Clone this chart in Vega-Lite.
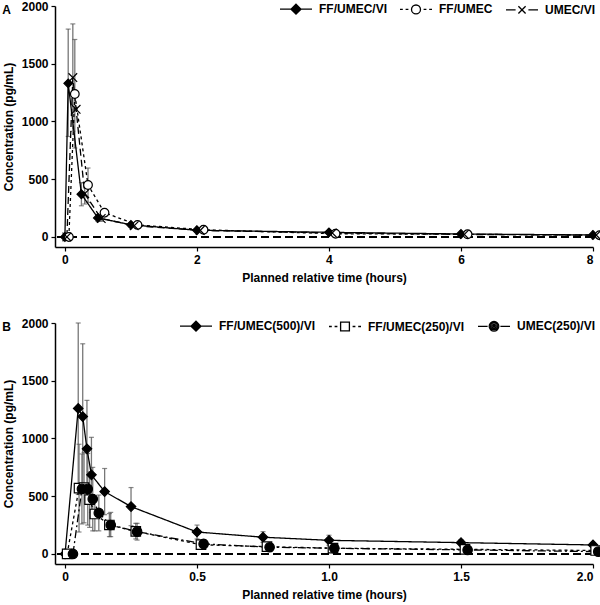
{
  "$schema": "https://vega.github.io/schema/vega-lite/v6.json",
  "padding": {"left": 2, "top": 0, "right": 5, "bottom": 3},
  "spacing": 34,
  "datasets": {
    "a": [
      {"series": "FF/UMEC/VI", "t": 0, "v": 0},
      {"series": "FF/UMEC/VI", "t": 0.05, "v": 1330, "lo": 870, "hi": 1800},
      {"series": "FF/UMEC/VI", "t": 0.25, "v": 370, "lo": 270, "hi": 470},
      {"series": "FF/UMEC/VI", "t": 0.5, "v": 165, "lo": 135, "hi": 195},
      {"series": "FF/UMEC/VI", "t": 1, "v": 105, "lo": 88, "hi": 122},
      {"series": "FF/UMEC/VI", "t": 2, "v": 58},
      {"series": "FF/UMEC/VI", "t": 4, "v": 40},
      {"series": "FF/UMEC/VI", "t": 6, "v": 26},
      {"series": "FF/UMEC/VI", "t": 8, "v": 17},
      {"series": "FF/UMEC", "t": 0.06, "v": 0},
      {"series": "FF/UMEC", "t": 0.15, "v": 1238, "lo": 770, "hi": 1710},
      {"series": "FF/UMEC", "t": 0.35, "v": 450, "lo": 300, "hi": 597},
      {"series": "FF/UMEC", "t": 0.6, "v": 210, "lo": 180, "hi": 240},
      {"series": "FF/UMEC", "t": 1.1, "v": 104},
      {"series": "FF/UMEC", "t": 2.1, "v": 62},
      {"series": "FF/UMEC", "t": 4.1, "v": 28},
      {"series": "FF/UMEC", "t": 6.1, "v": 23},
      {"series": "FF/UMEC", "t": 8.1, "v": 15},
      {"series": "UMEC/VI", "t": 0.03, "v": 0},
      {"series": "UMEC/VI", "t": 0.12, "v": 1380, "lo": 915, "hi": 1845},
      {"series": "UMEC/VI", "t": 0.17, "v": 1105},
      {"series": "UMEC/VI", "t": 0.3, "v": 375, "lo": 285, "hi": 470},
      {"series": "UMEC/VI", "t": 0.55, "v": 160, "lo": 135, "hi": 185},
      {"series": "UMEC/VI", "t": 1.05, "v": 98},
      {"series": "UMEC/VI", "t": 2.05, "v": 57},
      {"series": "UMEC/VI", "t": 4.05, "v": 35},
      {"series": "UMEC/VI", "t": 6.05, "v": 22},
      {"series": "UMEC/VI", "t": 8.05, "v": 16}
    ],
    "b": [
      {"series": "FF/UMEC(500)/VI", "t": 0, "v": 0},
      {"series": "FF/UMEC(500)/VI", "t": 0.05, "v": 1260, "lo": 515, "hi": 2000},
      {"series": "FF/UMEC(500)/VI", "t": 0.067, "v": 1190, "lo": 560, "hi": 1820},
      {"series": "FF/UMEC(500)/VI", "t": 0.083, "v": 910, "lo": 490, "hi": 1330},
      {"series": "FF/UMEC(500)/VI", "t": 0.1, "v": 685, "lo": 360, "hi": 1010},
      {"series": "FF/UMEC(500)/VI", "t": 0.15, "v": 540, "lo": 340, "hi": 740},
      {"series": "FF/UMEC(500)/VI", "t": 0.25, "v": 410, "lo": 245, "hi": 575},
      {"series": "FF/UMEC(500)/VI", "t": 0.5, "v": 190, "lo": 130, "hi": 250},
      {"series": "FF/UMEC(500)/VI", "t": 0.75, "v": 145, "lo": 100, "hi": 193},
      {"series": "FF/UMEC(500)/VI", "t": 1, "v": 118, "lo": 75, "hi": 162},
      {"series": "FF/UMEC(500)/VI", "t": 1.5, "v": 98, "lo": 72, "hi": 124},
      {"series": "FF/UMEC(500)/VI", "t": 2, "v": 78, "lo": 58, "hi": 98},
      {"series": "FF/UMEC(250)/VI", "t": 0.008, "v": 0},
      {"series": "FF/UMEC(250)/VI", "t": 0.053, "v": 570, "lo": 190, "hi": 950},
      {"series": "FF/UMEC(250)/VI", "t": 0.072, "v": 575, "lo": 270, "hi": 880},
      {"series": "FF/UMEC(250)/VI", "t": 0.093, "v": 470, "lo": 230, "hi": 710},
      {"series": "FF/UMEC(250)/VI", "t": 0.113, "v": 346, "lo": 200, "hi": 490},
      {"series": "FF/UMEC(250)/VI", "t": 0.168, "v": 251, "lo": 150, "hi": 350},
      {"series": "FF/UMEC(250)/VI", "t": 0.268, "v": 195, "lo": 130, "hi": 265},
      {"series": "FF/UMEC(250)/VI", "t": 0.515, "v": 80, "lo": 62, "hi": 98},
      {"series": "FF/UMEC(250)/VI", "t": 0.765, "v": 63},
      {"series": "FF/UMEC(250)/VI", "t": 1.015, "v": 50},
      {"series": "FF/UMEC(250)/VI", "t": 1.515, "v": 40},
      {"series": "FF/UMEC(250)/VI", "t": 2.01, "v": 30},
      {"series": "UMEC(250)/VI", "t": 0.03, "v": 0},
      {"series": "UMEC(250)/VI", "t": 0.064, "v": 563, "lo": 260, "hi": 866},
      {"series": "UMEC(250)/VI", "t": 0.086, "v": 563, "lo": 250, "hi": 870},
      {"series": "UMEC(250)/VI", "t": 0.105, "v": 476, "lo": 200, "hi": 750},
      {"series": "UMEC(250)/VI", "t": 0.128, "v": 355, "lo": 200, "hi": 510},
      {"series": "UMEC(250)/VI", "t": 0.173, "v": 251, "lo": 150, "hi": 360},
      {"series": "UMEC(250)/VI", "t": 0.273, "v": 193, "lo": 120, "hi": 265},
      {"series": "UMEC(250)/VI", "t": 0.525, "v": 87, "lo": 70, "hi": 105},
      {"series": "UMEC(250)/VI", "t": 0.775, "v": 58, "lo": 48, "hi": 68},
      {"series": "UMEC(250)/VI", "t": 1.02, "v": 49, "lo": 40, "hi": 58},
      {"series": "UMEC(250)/VI", "t": 1.525, "v": 35},
      {"series": "UMEC(250)/VI", "t": 2.02, "v": 20}
    ]
  },
  "vconcat": [
    {
      "width": 538,
      "height": 241,
      "title": {"text": "A", "anchor": "start", "frame": "bounds", "offset": -17, "fontSize": 12, "fontWeight": "bold", "font": "Liberation Sans", "color": "black"},
      "data": {"name": "a"},
      "resolve": {"scale": {"shape": "independent", "fill": "independent"}},
      "layer": [
        {
          "mark": {"type": "rule", "color": "black", "strokeDash": [8, 4], "strokeWidth": 1.2},
          "encoding": {"y": {"datum": 0, "type": "quantitative", "scale": {"domain": [-87, 2000], "nice": false, "zero": false}}}
        },
        {
          "transform": [{"filter": "isValid(datum.hi)"}],
          "mark": {"type": "rule", "color": "#777777", "strokeWidth": 1.3},
          "encoding": {
            "x": {"field": "t", "type": "quantitative"},
            "y": {"field": "lo", "type": "quantitative"},
            "y2": {"field": "hi"}
          }
        },
        {
          "transform": [{"filter": "isValid(datum.hi)"}],
          "mark": {"type": "tick", "orient": "horizontal", "size": 5, "thickness": 1.2, "color": "#555555"},
          "encoding": {
            "x": {"field": "t", "type": "quantitative"},
            "y": {"field": "hi", "type": "quantitative"}
          }
        },
        {
          "transform": [{"filter": "isValid(datum.hi)"}],
          "mark": {"type": "tick", "orient": "horizontal", "size": 5, "thickness": 1.2, "color": "#555555"},
          "encoding": {
            "x": {"field": "t", "type": "quantitative"},
            "y": {"field": "lo", "type": "quantitative"}
          }
        },
        {
          "mark": {"type": "line", "color": "black", "strokeWidth": 1.3},
          "encoding": {
            "x": {"field": "t", "type": "quantitative", "scale": {"domain": [-0.15, 8], "nice": false, "zero": false},
              "axis": {"values": [0, 2, 4, 6, 8], "format": "d", "title": "Planned relative time (hours)"}},
            "y": {"field": "v", "type": "quantitative",
              "axis": {"values": [0, 500, 1000, 1500, 2000], "format": "d", "title": "Concentration (pg/mL)"}},
            "strokeDash": {"field": "series", "type": "nominal",
              "scale": {"domain": ["FF/UMEC/VI", "FF/UMEC", "UMEC/VI"], "range": [[1, 0], [3, 3], [7, 4]]},
              "legend": null}
          }
        },
        {
          "mark": {"type": "point", "filled": true, "stroke": "black", "strokeWidth": 1.2, "opacity": 1, "size": 75},
          "encoding": {
            "x": {"field": "t", "type": "quantitative"},
            "y": {"field": "v", "type": "quantitative"},
            "shape": {"field": "series", "type": "nominal",
              "scale": {"domain": ["FF/UMEC/VI", "FF/UMEC", "UMEC/VI"], "range": ["diamond", "circle", "M-1,-1L1,1M-1,1L1,-1"]},
              "legend": null},
            "fill": {"field": "series", "type": "nominal",
              "scale": {"domain": ["FF/UMEC/VI", "FF/UMEC", "UMEC/VI"], "range": ["black", "white", "black"]},
              "legend": null}
          }
        },
        {
          "transform": [{"filter": "false"}],
          "mark": {"type": "point", "filled": false, "color": "black", "strokeWidth": 1.3, "opacity": 1, "size": 64},
          "encoding": {
            "x": {"field": "t", "type": "quantitative"},
            "y": {"field": "v", "type": "quantitative"},
            "shape": {"field": "series", "type": "nominal",
              "scale": {"domain": ["FF/UMEC/VI", "FF/UMEC", "UMEC/VI"], "range": [
                "M-4,0L4,0M0,-1.25L1.25,0L0,1.25L-1.25,0ZM0,-0.9L0.9,0L0,0.9L-0.9,0ZM0,-0.55L0.55,0L0,0.55L-0.55,0ZM0,-0.2L0.2,0L0,0.2L-0.2,0Z",
                "M-4,0L-3.3,0M-2.6,0L-1.9,0M1.9,0L2.6,0M3.3,0L4,0M1.12,0A1.12,1.12,0,1,1,-1.12,0A1.12,1.12,0,1,1,1.12,0Z",
                "M-4,0L-1.6,0M1.6,0L4,0M-0.9,-0.9L0.9,0.9M-0.9,0.9L0.9,-0.9"]},
              "legend": {"title": null, "orient": "top-right", "offset": -3, "direction": "horizontal",
                "symbolSize": 64, "labelOffset": 17, "columnPadding": 10, "symbolStrokeWidth": 1.3}}
          }
        }
      ]
    },
    {
      "width": 538,
      "height": 241,
      "title": {"text": "B", "anchor": "start", "frame": "bounds", "offset": -17, "fontSize": 12, "fontWeight": "bold", "font": "Liberation Sans", "color": "black"},
      "data": {"name": "b"},
      "resolve": {"scale": {"shape": "independent", "fill": "independent"}},
      "layer": [
        {
          "mark": {"type": "rule", "color": "black", "strokeDash": [8, 4], "strokeWidth": 1.2},
          "encoding": {"y": {"datum": 0, "type": "quantitative", "scale": {"domain": [-87, 2000], "nice": false, "zero": false}}}
        },
        {
          "transform": [{"filter": "isValid(datum.hi)"}],
          "mark": {"type": "rule", "color": "#777777", "strokeWidth": 1.3},
          "encoding": {
            "x": {"field": "t", "type": "quantitative"},
            "y": {"field": "lo", "type": "quantitative"},
            "y2": {"field": "hi"}
          }
        },
        {
          "transform": [{"filter": "isValid(datum.hi)"}],
          "mark": {"type": "tick", "orient": "horizontal", "size": 5, "thickness": 1.2, "color": "#555555"},
          "encoding": {
            "x": {"field": "t", "type": "quantitative"},
            "y": {"field": "hi", "type": "quantitative"}
          }
        },
        {
          "transform": [{"filter": "isValid(datum.hi)"}],
          "mark": {"type": "tick", "orient": "horizontal", "size": 5, "thickness": 1.2, "color": "#555555"},
          "encoding": {
            "x": {"field": "t", "type": "quantitative"},
            "y": {"field": "lo", "type": "quantitative"}
          }
        },
        {
          "mark": {"type": "line", "color": "black", "strokeWidth": 1.3},
          "encoding": {
            "x": {"field": "t", "type": "quantitative", "scale": {"domain": [-0.038, 2], "nice": false, "zero": false},
              "axis": {"values": [0, 0.5, 1, 1.5, 2], "labelExpr": "datum.value === 0 ? '0' : format(datum.value, '.1f')", "title": "Planned relative time (hours)"}},
            "y": {"field": "v", "type": "quantitative",
              "axis": {"values": [0, 500, 1000, 1500, 2000], "format": "d", "title": "Concentration (pg/mL)"}},
            "strokeDash": {"field": "series", "type": "nominal",
              "scale": {"domain": ["FF/UMEC(500)/VI", "FF/UMEC(250)/VI", "UMEC(250)/VI"], "range": [[1, 0], [3, 3], [8, 3, 2, 3]]},
              "legend": null}
          }
        },
        {
          "mark": {"type": "point", "filled": true, "stroke": "black", "strokeWidth": 1.2, "opacity": 1, "size": 90},
          "encoding": {
            "x": {"field": "t", "type": "quantitative"},
            "y": {"field": "v", "type": "quantitative"},
            "shape": {"field": "series", "type": "nominal",
              "scale": {"domain": ["FF/UMEC(500)/VI", "FF/UMEC(250)/VI", "UMEC(250)/VI"], "range": ["diamond", "square", "circle"]},
              "legend": null},
            "fill": {"field": "series", "type": "nominal",
              "scale": {"domain": ["FF/UMEC(500)/VI", "FF/UMEC(250)/VI", "UMEC(250)/VI"], "range": ["black", "white", "black"]},
              "legend": null}
          }
        },
        {
          "transform": [{"filter": "false"}],
          "mark": {"type": "point", "filled": false, "color": "black", "strokeWidth": 1.3, "opacity": 1, "size": 64},
          "encoding": {
            "x": {"field": "t", "type": "quantitative"},
            "y": {"field": "v", "type": "quantitative"},
            "shape": {"field": "series", "type": "nominal",
              "scale": {"domain": ["FF/UMEC(500)/VI", "FF/UMEC(250)/VI", "UMEC(250)/VI"], "range": [
                "M-4,0L4,0M0,-1.25L1.25,0L0,1.25L-1.25,0ZM0,-0.9L0.9,0L0,0.9L-0.9,0ZM0,-0.55L0.55,0L0,0.55L-0.55,0ZM0,-0.2L0.2,0L0,0.2L-0.2,0Z",
                "M-4,0L-3.3,0M-2.6,0L-1.9,0M1.9,0L2.6,0M3.3,0L4,0M-1.1,-1.1L1.1,-1.1L1.1,1.1L-1.1,1.1Z",
                "M-4,0L-1.6,0M1.6,0L4,0M1.2,0A1.2,1.2,0,1,1,-1.2,0A1.2,1.2,0,1,1,1.2,0ZM0.85,0A0.85,0.85,0,1,1,-0.85,0A0.85,0.85,0,1,1,0.85,0ZM0.5,0A0.5,0.5,0,1,1,-0.5,0A0.5,0.5,0,1,1,0.5,0ZM0.15,0A0.15,0.15,0,1,1,-0.15,0A0.15,0.15,0,1,1,0.15,0Z"]},
              "legend": {"title": null, "orient": "top-right", "offset": -3, "direction": "horizontal",
                "symbolSize": 64, "labelOffset": 17, "columnPadding": 10, "symbolStrokeWidth": 1.3}}
          }
        }
      ]
    }
  ],
  "resolve": {"scale": {"x": "independent", "y": "independent", "strokeDash": "independent", "shape": "independent", "fill": "independent"}, "legend": {"shape": "independent", "fill": "independent"}},
  "config": {
    "font": "Liberation Sans",
    "view": {"stroke": null},
    "axis": {
      "labelFont": "Liberation Sans", "labelFontSize": 12, "labelFontWeight": "bold", "labelColor": "black",
      "titleFont": "Liberation Sans", "titleFontSize": 12, "titleFontWeight": "bold", "titleColor": "black",
      "domainColor": "black", "domainWidth": 1.5, "tickColor": "black", "tickSize": 4, "tickWidth": 1.2,
      "grid": false, "labelPadding": 3
    },
    "axisX": {"titlePadding": 7},
    "axisY": {"titlePadding": 6},
    "legend": {"labelFont": "Liberation Sans", "labelFontSize": 12, "labelFontWeight": "bold", "labelColor": "black", "padding": 0}
  }
}
